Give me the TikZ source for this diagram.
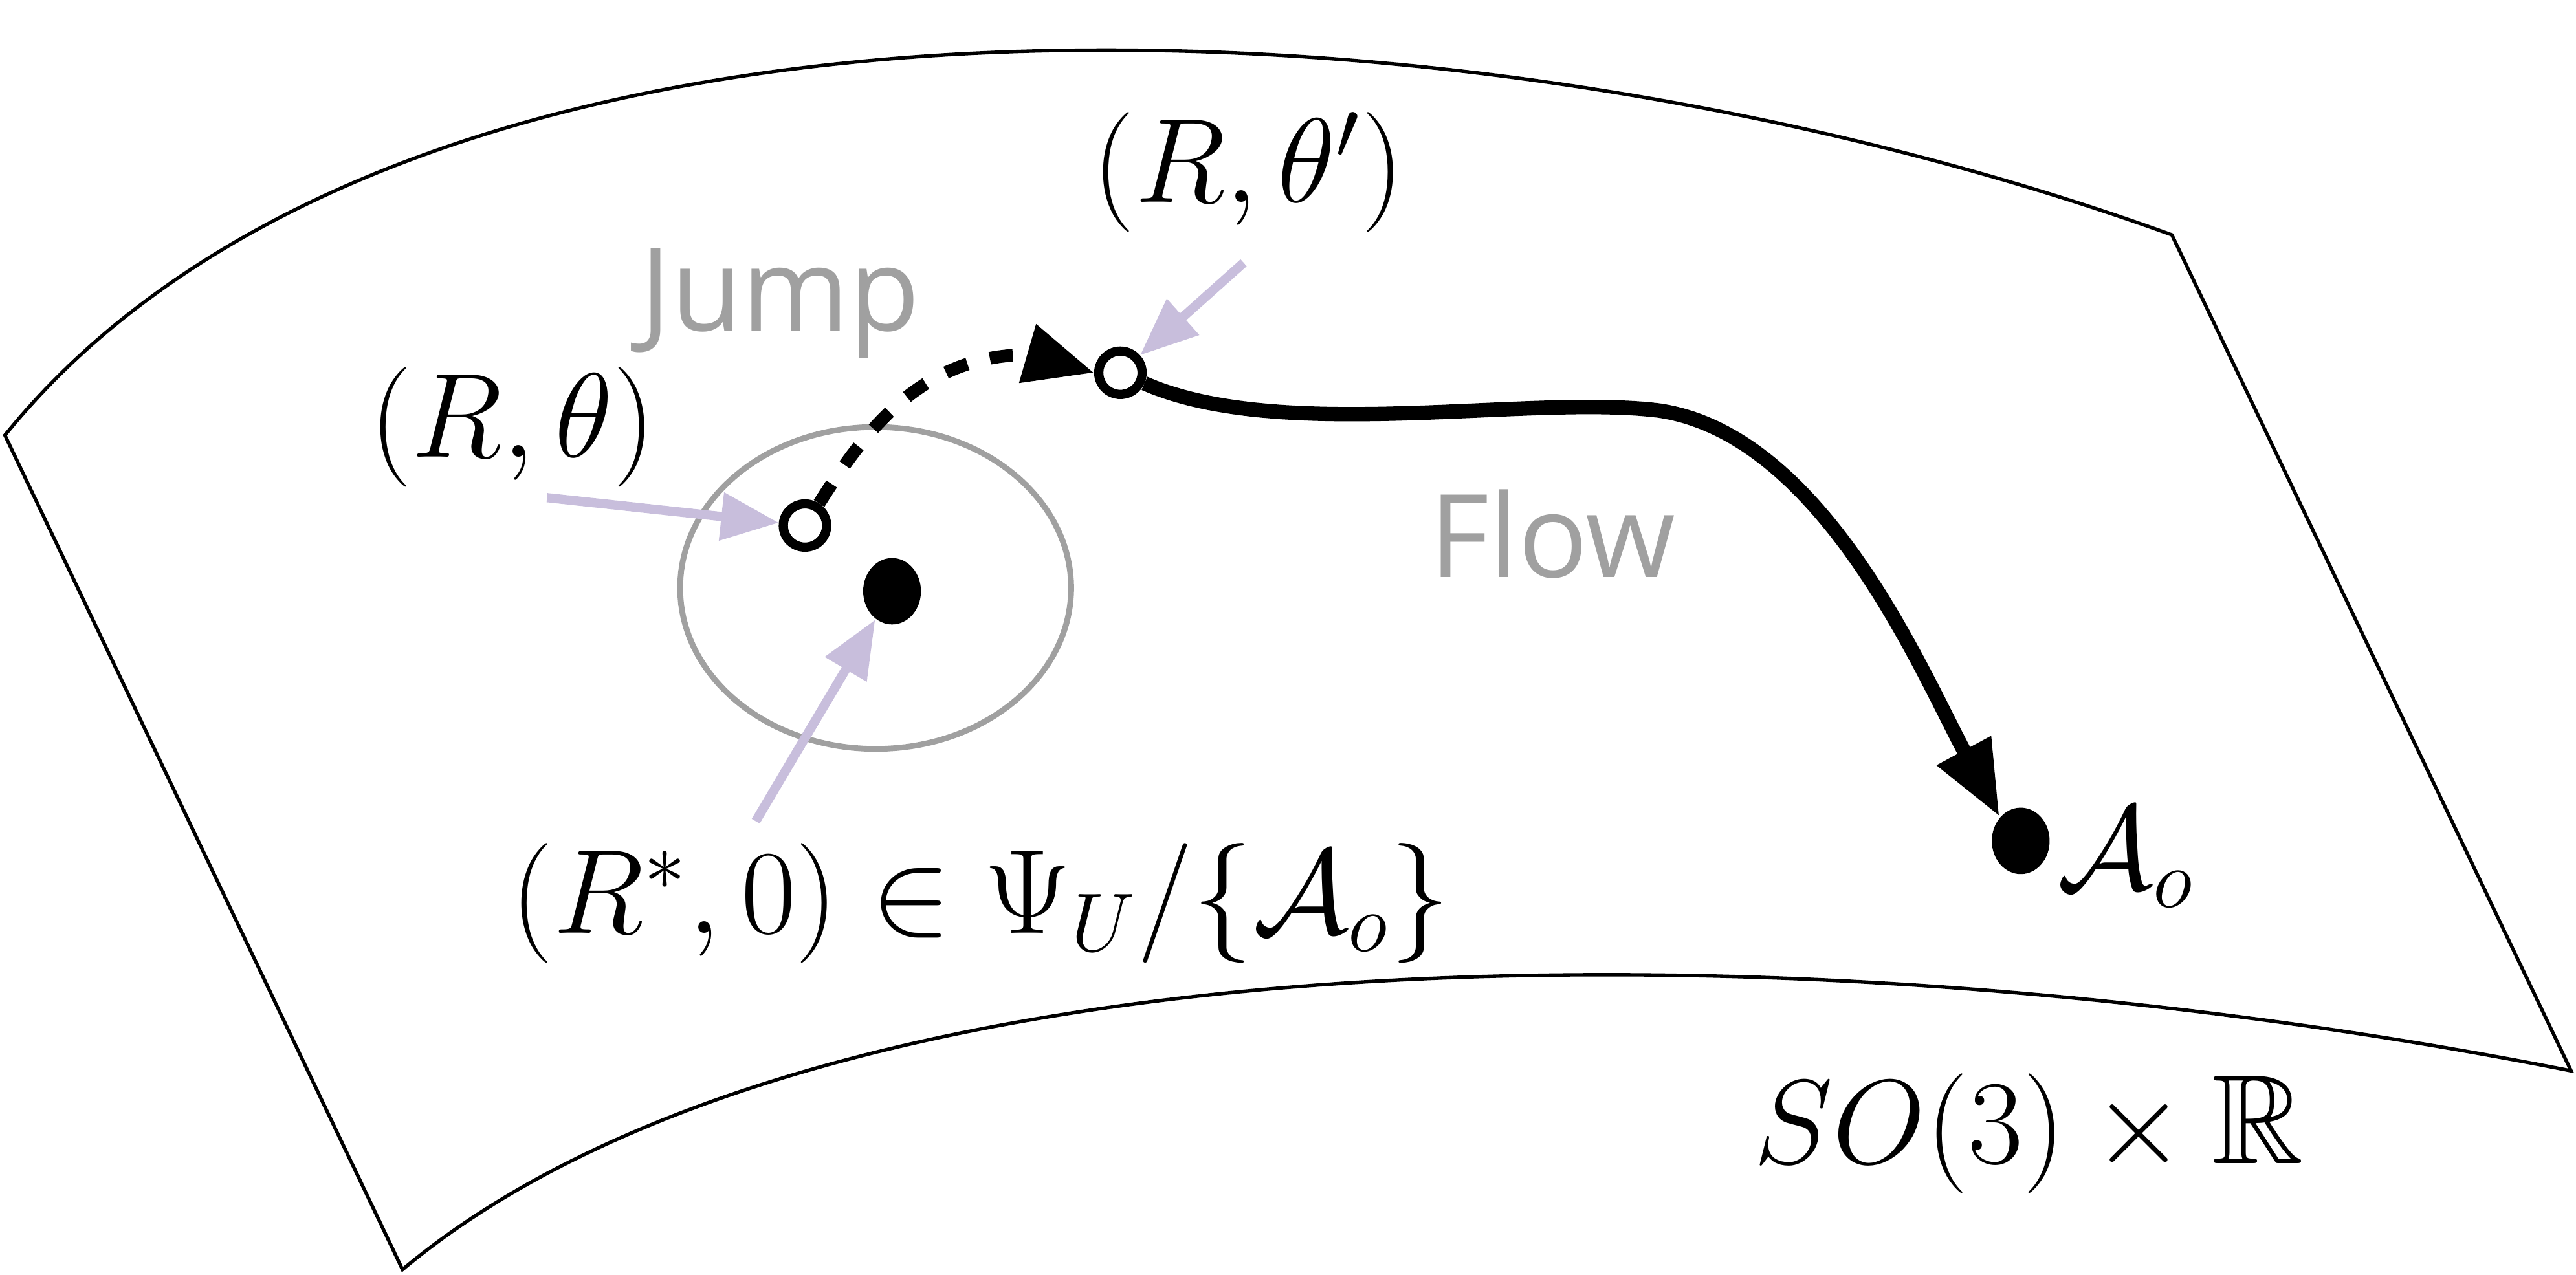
\documentclass[tikz,border=0pt]{standalone}
\usepackage{amssymb}
\usepackage{fontspec}
\newfontfamily\labelfont{Open Sans}
\usetikzlibrary{arrows.meta,shapes.geometric}
\definecolor{lav}{RGB}{200,190,220}
\definecolor{lightgray}{RGB}{160,160,160}
\tikzset{
  pt/.style={circle, draw, line width=1.6pt, inner sep=0pt, minimum size=7.5pt},
  ptfill/.style={ellipse, fill=black, inner sep=0pt, minimum width=10pt, minimum height=11.5pt},
  pointer/.style={lav, line width=1.6pt, -{Triangle[length=10pt,width=8pt]}},
  big/.style={font=\fontsize{22}{26}\selectfont},
  word/.style={lightgray, font=\labelfont\fontsize{20}{24}\selectfont}
}
\begin{document}
\begin{tikzpicture}[x=0.01cm,y=-0.01cm]

\useasboundingbox (0,0) rectangle (1568,776);

% SURFACE
\draw [line width=0.6pt] (3,265) .. controls (250,-40) and (900,-10) .. (1322,143)
  -- (1565,652) .. controls (1100,560) and (500,560) .. (245,773) -- cycle;

% REGION
\draw [lightgray, line width=1pt] (533,358) ellipse [x radius=119, y radius=98];

% POINTS
\node [pt] (start) at (490,320) {};
\node [ptfill] (rest) at (543,360) {};
\node [pt] (jumped) at (682,227) {};
\node [ptfill] (target) at (1230,512) {};

% JUMP AND FLOW
\draw [line width=2.2pt, dash pattern=on 4pt off 4pt] (start) .. controls (525,265) and (560,215) .. (628,216);
\draw [line width=2.2pt, -{Triangle[length=12pt,width=10pt]}] (628,216) -- (jumped.west);
\draw [line width=2.5pt, -{Triangle[length=13pt,width=10pt]}] (jumped) .. controls (780,270) and (930,240) .. (1010,250)
  .. controls (1110,265) and (1170,410) .. (target.north west);

% POINTERS
\coordinate (fromtheta) at (333,303);
\coordinate (fromrest) at (460,500);
\coordinate (fromprime) at (757,160);
\draw [pointer] (fromtheta) -- (start);
\draw [pointer] (fromrest) -- (rest);
\draw [pointer] (fromprime) -- (jumped);

% LABELS
\node [big] (theta) at (312,260) {$(R,\theta)$};
\node [big] (thetaprime) at (760,105) {$(R,\theta')$};
\node [big] (restlbl) at (597,550) {$(R^*,0)\in\Psi_U/\{\mathcal{A}_o\}$};
\node [big, anchor=west] (ao) at (1240,522) {$\mathcal{A}_o$};
\node [big] (space) at (1235,690) {$SO(3)\times\mathbb{R}$};
\node [word] (jump) at (475,185) {Jump};
\node [word] (flow) at (945,325) {Flow};

\end{tikzpicture}
\end{document}
